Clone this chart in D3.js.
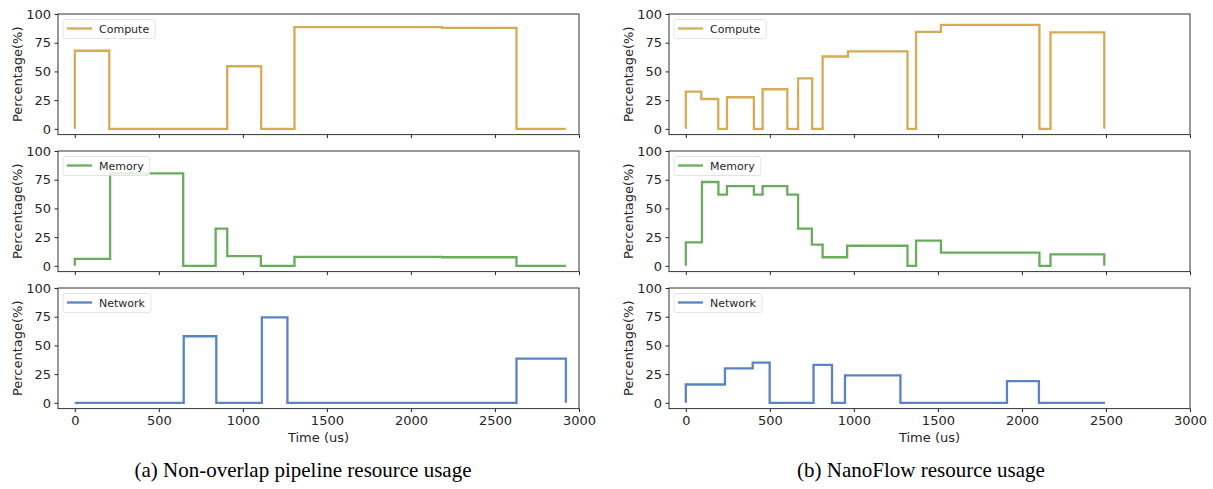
<!DOCTYPE html>
<html>
<head>
<meta charset="utf-8">
<script src="https://cdn.jsdelivr.net/npm/d3@7"></script>
<style>
  body { margin: 0; background: #fff; }
  text { font-family: "DejaVu Sans", sans-serif; fill: #262626; }
  .caption { font-family: "Liberation Serif", "Times New Roman", serif; fill: #000; }
</style>
</head>
<body>
<div id="chart"></div>
<script>
// step series: times are the breakpoints, values hold between them
const seriesNames = ["Compute", "Memory", "Network"];
const seriesColors = ["#d4ab57", "#6aab5d", "#5a84c1"];

const leftComputeT = [0, 205, 907, 1109, 1307, 2185, 2628, 2922];
const leftComputeV = [68, 0, 54.5, 0, 88.5, 88, 0];
const leftMemoryT = [0, 210, 645, 838, 907, 1107, 1307, 2185, 2628, 2922];
const leftMemoryV = [6, 80.5, 0, 32.5, 8.5, 0, 7.8, 7.5, 0];
const leftNetworkT = [0, 648, 842, 1113, 1265, 2628, 2922];
const leftNetworkV = [0, 58, 0, 74.5, 0, 38.5];

const rightComputeT = [0, 92, 193, 245, 405, 457, 604, 668, 752, 814, 965, 1319, 1370, 1518, 2104, 2170, 2490];
const rightComputeV = [32.5, 26, 0, 27.5, 0, 34.5, 0, 44, 0, 63, 67.5, 0, 84.5, 90.5, 0, 84];
const rightMemoryT = [0, 96, 194, 245, 405, 457, 604, 668, 750, 814, 960, 1319, 1370, 1518, 2104, 2170, 2490];
const rightMemoryV = [20.5, 73, 62, 69.5, 62, 69.5, 62, 32.5, 18.5, 7.5, 17.5, 0, 22, 11.5, 0, 10];
const rightNetworkT = [0, 233, 398, 499, 760, 870, 947, 1277, 1911, 2101, 2494];
const rightNetworkV = [16, 30, 35, 0, 33, 0, 24, 0, 19, 0];

const yTicks = [0, 25, 50, 75, 100];
const xTicks = [0, 500, 1000, 1500, 2000, 2500, 3000];
const captions = ["(a) Non-overlap pipeline resource usage", "(b) NanoFlow resource usage"];

const columns = [
  { left: 58, captionX: 303, series: [[leftComputeT, leftComputeV], [leftMemoryT, leftMemoryV], [leftNetworkT, leftNetworkV]] },
  { left: 669, captionX: 921, series: [[rightComputeT, rightComputeV], [rightMemoryT, rightMemoryV], [rightNetworkT, rightNetworkV]] },
];

const config = {
  width: 1213,
  height: 489,
  panelWidth: 521,
  panelHeight: 120.6,
  panelTops: [14, 151, 288],
};

const svg = d3.select("#chart").append("svg")
  .attr("width", config.width)
  .attr("height", config.height);

const x = d3.scaleLinear().domain([-100, 3000]).range([0, config.panelWidth]);
const y = d3.scaleLinear().domain([-5, 100]).range([config.panelHeight, 0]);

const line = d3.line()
  .x((d) => x(d[0]))
  .y((d) => y(d[1]))
  .curve(d3.curveStepAfter);

function stepPoints(times, values) {
  const pts = [[times[0], 0]];
  values.forEach((v, i) => pts.push([times[i], v]));
  pts.push([times[times.length - 1], 0]);
  return pts;
}

columns.forEach((col, ci) => {
  col.series.forEach(([times, values], si) => {
    const top = config.panelTops[si];
    const g = svg.append("g").attr("transform", `translate(${col.left},${top})`);

    // y axis
    const ya = g.append("g")
      .call(d3.axisLeft(y).tickValues(yTicks).tickSize(3.5).tickPadding(3.5));
    ya.select(".domain").remove();
    ya.selectAll("text").style("font-size", "13px").style("font-family", "DejaVu Sans");
    ya.selectAll("line").attr("stroke", "#262626");

    // x axis
    const xa = g.append("g")
      .attr("transform", `translate(0,${config.panelHeight})`)
      .call(d3.axisBottom(x).tickValues(xTicks).tickFormat(d3.format("d")).tickSize(3.5).tickPadding(3.5));
    xa.select(".domain").remove();
    xa.selectAll("line").attr("stroke", "#262626");
    if (si < 2) {
      xa.selectAll("text").remove();
    } else {
      xa.selectAll("text").style("font-size", "13px").style("font-family", "DejaVu Sans");
    }

    // frame
    g.append("rect")
      .attr("width", config.panelWidth)
      .attr("height", config.panelHeight)
      .attr("fill", "none")
      .attr("stroke", "#333")
      .attr("stroke-width", 1);

    // step line
    g.append("path")
      .datum(stepPoints(times, values))
      .attr("d", line)
      .attr("fill", "none")
      .attr("stroke", seriesColors[si])
      .attr("stroke-width", 2.3);

    // legend
    const lg = g.append("g").attr("transform", "translate(5,5.5)");
    const box = lg.append("rect")
      .attr("height", 19)
      .attr("rx", 2.5)
      .attr("fill", "#fff")
      .attr("fill-opacity", 0.8)
      .attr("stroke", "#dcdcdc")
      .attr("stroke-width", 0.8);
    lg.append("line")
      .attr("x1", 4).attr("x2", 29)
      .attr("y1", 9).attr("y2", 9)
      .attr("stroke", seriesColors[si])
      .attr("stroke-width", 2.3);
    const lt = lg.append("text")
      .attr("x", 36).attr("y", 13)
      .style("font-size", "11px")
      .text(seriesNames[si]);
    box.attr("width", 36 + lt.node().getComputedTextLength() + 6);

    // y label
    svg.append("text")
      .attr("transform", `translate(${col.left - 36},${top + config.panelHeight / 2}) rotate(-90)`)
      .attr("text-anchor", "middle")
      .style("font-size", "13px")
      .text("Percentage(%)");
  });

  // x label
  svg.append("text")
    .attr("x", col.left + config.panelWidth / 2)
    .attr("y", 442)
    .attr("text-anchor", "middle")
    .style("font-size", "13px")
    .text("Time (us)");

  // caption
  svg.append("text")
    .attr("class", "caption")
    .attr("x", col.captionX)
    .attr("y", 477)
    .attr("text-anchor", "middle")
    .style("font-size", "21px")
    .text(captions[ci]);
});
</script>
</body>
</html>
